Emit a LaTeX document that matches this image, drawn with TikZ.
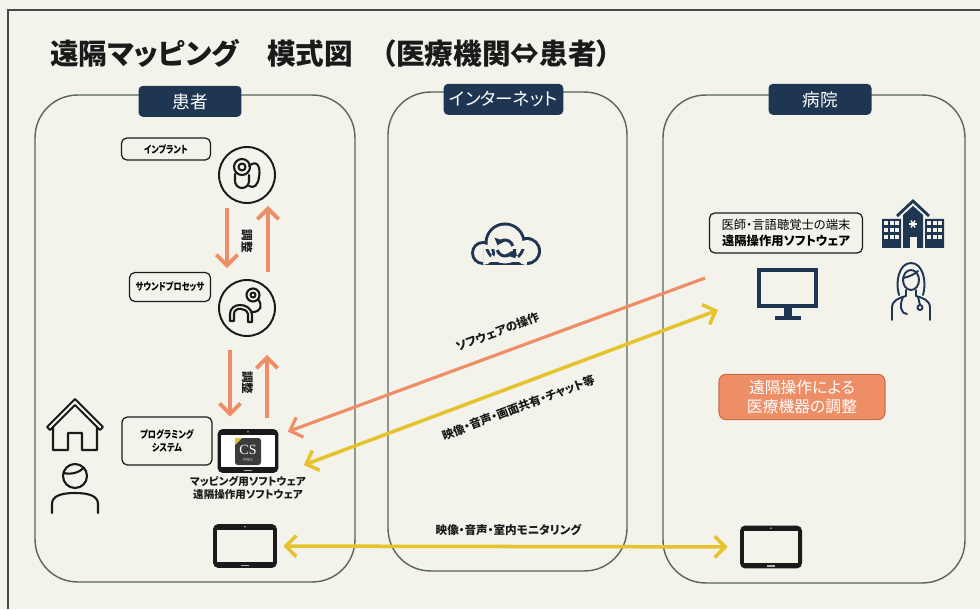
\documentclass[tikz,border=0pt]{standalone}
\usepackage{fontspec}
\setmainfont{Noto Sans CJK JP}[RawFeature=+palt]
\newfontfamily\narrowfont{Noto Sans CJK JP}[RawFeature=+palt,FakeStretch=0.8]
\newfontfamily\csfont{Liberation Serif}
\usetikzlibrary{arrows.meta,positioning,calc}
\definecolor{Paper}{HTML}{F3F3EC}
\definecolor{Navy}{HTML}{1E3652}
\definecolor{Rim}{HTML}{56665D}
\definecolor{Ink}{HTML}{1A1A1A}
\definecolor{Coral}{HTML}{EE8E66}
\definecolor{Mustard}{HTML}{E6C22C}
\definecolor{Brick}{HTML}{C96C49}
\definecolor{Tile}{HTML}{3B3B3B}
\definecolor{Gold}{HTML}{E3C23A}

% tablet face: screen, camera dot and home bar
\newcommand\padface[2]{%
  \fill[#2] ($(#1.south west)+(4,6)$) rectangle ($(#1.north east)+(-4,-6)$);
  \fill[gray!60] ($(#1.north)+(0,-3)$) circle (0.9);
  \fill[gray!60] ($(#1.south)+(-4,2.2)$) rectangle ($(#1.south)+(4,3.6)$);
}

\begin{document}
\begin{tikzpicture}[x=0.02cm,y=0.02cm,
    panel/.style={draw=Rim,line width=0.8pt,rounded corners=0.85cm},
    tab/.style={fill=Navy,text=white,rounded corners=2.5pt,minimum width=2.06cm,
      minimum height=0.62cm,font=\fontsize{10}{11}\selectfont},
    tagbox/.style={draw=Ink,line width=0.7pt,fill=Paper,rounded corners=3pt,align=center,
      inner sep=1pt,font=\narrowfont\bfseries\fontsize{5.8}{7.4}\selectfont},
    ring/.style={circle,draw=Ink,line width=1.1pt,minimum size=1.12cm},
    pad/.style={fill=Ink,rounded corners=3pt,minimum width=1.28cm,minimum height=0.88cm},
    adjust/.style={Coral,line width=2.2pt,-{Straight Barb[length=6pt,width=12pt]}},
    link/.style={line width=2pt,{Straight Barb[length=6pt,width=12pt]}-{Straight Barb[length=6pt,width=12pt]}},
    flowtext/.style={inner sep=1pt,text=Ink,font=\bfseries\fontsize{6.6}{8}\selectfont},
    icon/.style={draw=Ink,line width=1.2pt,line cap=round,line join=round}
  ]
  \fill[Paper] (0,0) rectangle (980,609);
  \useasboundingbox (0,0) rectangle (980,609);
  \draw[Ink!80,line width=0.9pt] (8,0) -- (8,599) -- (980,599);

  \node[anchor=west,inner sep=0,text=Ink,font=\bfseries\fontsize{16.3}{20}\selectfont] (title) at (50,556)
    {遠隔マッピング　模式図　（医療機関⇔患者）};

  % three zones
  \node[panel,minimum width=6.4cm,minimum height=9.74cm] (pat) at (195,270.5) {};
  \node[panel,minimum width=4.78cm,minimum height=9.58cm] (net) at (507.5,277.5) {};
  \node[panel,minimum width=6.04cm,minimum height=9.76cm] (hsp) at (814,270) {};
  \node[tab] (tabpat) at ($(pat.north)+(-5,-7)$) {患者};
  \node[tab] (tabnet) at ($(net.north)+(-4,-8)$) {インターネット};
  \node[tab] (tabhsp) at ($(hsp.north)+(6,-5)$) {病院};

  % patient side
  \node[tagbox,minimum width=1.78cm,minimum height=0.44cm] (implbl) at (166,460) {インプラント};
  \node[ring] (imp) at (247,434) {};
  \node[tagbox,minimum width=1.62cm,minimum height=0.58cm] (proclbl) at (170,322) {サウンドプロセッサ};
  \node[ring] (proc) at (247,301) {};
  \node[tagbox,minimum width=1.8cm,minimum height=0.96cm] (proglbl) at (167,168) {プログラミング\\システム};
  \node[pad,minimum width=1.22cm] (cs) at (248,158) {};
  \node[below=1pt of cs,inner sep=0.5pt,align=center,text=Ink,
    font=\bfseries\fontsize{6}{7.4}\selectfont] (cscap) {マッピング用ソフトウェア\\遠隔操作用ソフトウェア};
  \node[pad] (padpat) at (245,63) {};
  \coordinate (home) at (75,184);
  \coordinate (user) at (75,121);

  % implant
  \begin{scope}[shift={(imp.center)}]
    \draw[icon] (-5,8) circle (8) (-5,8) circle (3.5);
    \draw[icon,rounded corners=4] (-12,1) -- (-12,-13) -- (2,-13) -- (2,0);
    \draw[icon] (2,9) .. controls (10,16) and (14,8) .. (12,-2) .. controls (11,-10) and (7,-14) .. (2,-11);
  \end{scope}
  % sound processor
  \begin{scope}[shift={(proc.center)}]
    \draw[icon] (-17,-13) -- (-17,-6) .. controls (-17,6) and (3,6) .. (5,-6) -- (5,-14) -- (1,-14)
      -- (1,-6) .. controls (-1,1) and (-13,1) .. (-13,-6) -- (-13,-13) -- cycle;
    \draw[icon] (6,13) circle (6.5) (6,13) circle (2.5);
    \draw[icon] (11,9) .. controls (16,2) and (14,-4) .. (5,-4);
  \end{scope}
  % CS app on the tablet
  \padface{cs}{white}
  \fill[Tile,rounded corners=1.5pt] ($(cs.center)+(-13,-14)$) rectangle ($(cs.center)+(13,13)$);
  \fill[Gold] ($(cs.center)+(-13,13)$) -- ++(7,0) -- ++(-7,-7) -- cycle;
  \node[text=white,inner sep=0,font=\csfont\fontsize{8}{8}\selectfont] (csmark) at ($(cs.center)+(0,1)$) {CS};
  \node[text=white!70!gray,inner sep=0,font=\sffamily\fontsize{2.5}{3}\selectfont] (cspro) at ($(cs.center)+(0,-9)$) {PRO};
  \padface{padpat}{Paper}
  % home and patient
  \begin{scope}[shift={(home)}]
    \draw[icon] (-7,-25) -- (-7,-8) -- (7,-8) -- (7,-25) -- (22,-25) -- (22,-2) -- (25,-5) -- (28,-2)
      -- (0,26) -- (-28,-2) -- (-25,-5) -- (-22,-2) -- (-22,-25) -- cycle;
    \draw[icon] (-22,-2) -- (0,20) -- (22,-2);
  \end{scope}
  \begin{scope}[shift={(user)}]
    \draw[icon] (0,12) circle (12);
    \draw[icon] (-11.5,15) .. controls (-3,13) and (5,16) .. (9,20.5);
    \draw[icon] (-23,-25) -- (-23,-16) .. controls (-23,-8) and (-14,-5) .. (0,-5)
      .. controls (14,-5) and (23,-8) .. (23,-16) -- (23,-25);
  \end{scope}

  % cloud with sync arrows
  \coordinate (cloud) at (505,365);
  \begin{scope}[shift={(cloud)}]
    \fill[Navy] (-22,-9) circle (12) (0,1) circle (20.5) (22,-7) circle (14) (-22,-21) rectangle (22,-5);
    \fill[Paper] (-22,-9) circle (9) (0,1) circle (17.5) (22,-7) circle (11) (-22,-18) rectangle (22,-5);
    \draw[Navy,line width=1.7pt,-{Triangle[length=3.5pt,width=6pt]}] (0,-4) ++(15:8) arc[start angle=15,end angle=160,radius=8];
    \draw[Navy,line width=1.7pt,-{Triangle[length=3.5pt,width=6pt]}] (0,-4) ++(195:8) arc[start angle=195,end angle=340,radius=8];
  \end{scope}

  % hospital side
  \node[tagbox,minimum width=3.06cm,minimum height=0.8cm,font=\fontsize{7}{9.6}\selectfont] (doclbl) at (786,376)
    {医師・言語聴覚士の端末\\\textbf{遠隔操作用ソフトウェア}};
  \node[draw=Navy,line width=2.2pt,minimum width=1.14cm,minimum height=0.72cm] (mon) at (787.5,321) {};
  \fill[Navy] ($(mon.south)+(-4,1)$) rectangle ($(mon.south)+(4,-8)$);
  \fill[Navy] ($(mon.south)+(-13,-8)$) rectangle ($(mon.south)+(13,-12)$);
  \node[fill=Coral,draw=Brick,line width=0.6pt,rounded corners=4pt,text=white,align=center,
    minimum width=3.32cm,minimum height=0.9cm,font=\fontsize{9}{10.8}\selectfont] (remote) at (802,212)
    {遠隔操作による\\医療機器の調整};
  \node[pad,minimum width=1.24cm,minimum height=0.86cm] (padhsp) at (771,62) {};
  \padface{padhsp}{Paper}
  \coordinate (bldg) at (913,384);
  \coordinate (medic) at (911,317);
  \begin{scope}[shift={(bldg)}]
    \fill[Navy] (-31,-23) rectangle (-12,6) (12,-23) rectangle (31,6);
    \fill[Navy] (-10,-23) -- (-10,10) -- (0,19) -- (10,10) -- (10,-23) -- cycle;
    \draw[Navy,line width=1.6pt] (-16,9) -- (0,24) -- (16,9);
    \foreach \c in {-29,-23.5,-18,14,19.5,25}
      \foreach \r in {0,-7,-14}
        \fill[Paper] (\c,\r) rectangle +(4,4);
    \fill[Paper] (-3.5,-23) rectangle (3.5,-12);
    \foreach \a in {0,60,120}
      \draw[Paper,line width=0.9pt] (0,1) +(\a:4) -- +(\a+180:4);
  \end{scope}
  \begin{scope}[shift={(medic)},icon/.append style={draw=Navy,line width=1.1pt}]
    \draw[icon] (0,12) ellipse (8 and 10);
    \draw[icon] (-8,14) .. controls (-2,15) and (4,18) .. (7,21);
    \draw[icon] (-12,-3) .. controls (-16,10) and (-12,29) .. (0,29) .. controls (12,29) and (16,10) .. (12,-3);
    \draw[icon] (-19,-28) -- (-19,-16) .. controls (-19,-8) and (-12,-6) .. (-5,-4) -- (-5,2);
    \draw[icon] (19,-28) -- (19,-16) .. controls (19,-8) and (12,-6) .. (5,-4) -- (5,2);
    \draw[icon] (-8,-5) .. controls (-12,-14) and (-10,-22) .. (-4,-22);
    \draw[icon] (7,-5) -- (9,-13) (9,-15.5) circle (2.5);
  \end{scope}

  % adjustment loops between the devices
  \draw[adjust] ($(imp.south)+(-20,-4)$) -- ($(proc.north)+(-20,11)$);
  \draw[adjust] ($(proc.north)+(21,7)$) -- ($(imp.south)+(21,-2)$);
  \node[flowtext,rotate=-90] (adj1) at ($(imp.south)!.5!(proc.north)$) {調整};
  \draw[adjust] ($(proc.south)+(-17,-13)$) -- ($(cs.north)+(-18,12)$);
  \draw[adjust] ($(cs.north)+(19,11)$) -- ($(proc.south)+(20,-18)$);
  \node[flowtext,rotate=-90] (adj2) at ($(proc.south)!.5!(cs.north)$) {調整};

  % links over the internet
  \coordinate (optail) at ($(mon.west)+(-52,10)$);
  \draw[Coral,line width=1.8pt,{Straight Barb[length=6pt,width=12pt]}-] ($(cs.north east)+(9,-3)$) -- (optail)
    node[flowtext,pos=.52,sloped,above=7pt] (oplbl) {ソフウェアの操作};
  \draw[link,Mustard] ($(cs.east)+(25,-14)$) -- ($(mon.west)+(-39,-22)$)
    node[flowtext,pos=.5,sloped,below=7pt] (avlbl) {映像・音声・画面共有・チャット等};
  \draw[link,Mustard,shorten <=0.12cm,shorten >=0.24cm] (padpat) -- (padhsp)
    node[flowtext,pos=.5,above=4pt] (monlbl) {映像・音声・室内モニタリング};
\end{tikzpicture}
\end{document}
